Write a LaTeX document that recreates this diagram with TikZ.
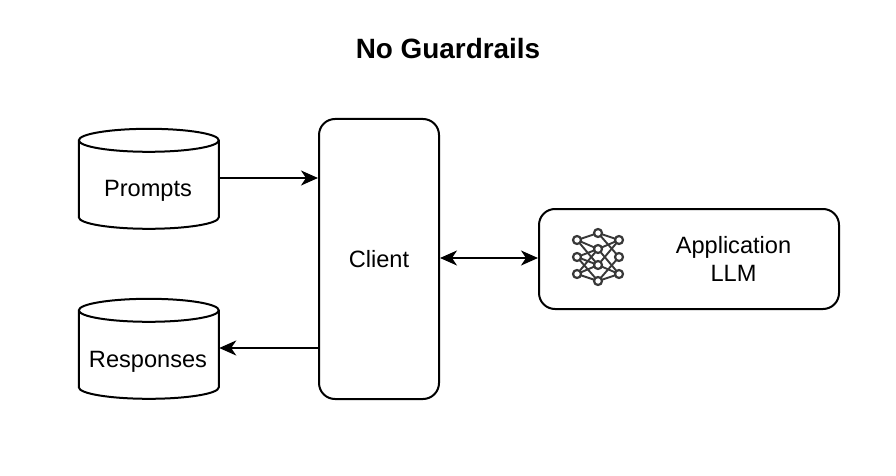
\documentclass[tikz,border=0pt]{standalone}
\usepackage{fontspec}
\setmainfont{Liberation Sans}
\usetikzlibrary{arrows.meta}
\tikzset{
  x=1pt,y=-1pt,
  ln/.style={line width=2pt,draw=black},
  boxnode/.style={ln,rounded corners=16pt,align=center,inner sep=0pt},
  dbnode/.style={minimum width=140pt,minimum height=100pt,inner sep=0pt},
  lbl/.style={font=\fontsize{23.6}{28}\selectfont,align=center},
  conn/.style={ln,-{Stealth[length=17pt,width=15pt,inset=5pt]}},
  bidir/.style={ln,{Stealth[length=17pt,width=15pt,inset=5pt]}-{Stealth[length=17pt,width=15pt,inset=5pt]}},
  nnw/.style={line width=1.9pt,draw=black!78},
  nnd/.style={circle,line width=2.2pt,draw=black!78,fill=white,minimum size=8pt,inner sep=0pt}
}
\newcommand{\dbshape}[1]{%
  \draw[ln] (#1.north west)++(0,11.5) arc[x radius=70pt,y radius=11.5pt,start angle=180,end angle=0] -- ++(0,77)
    arc[x radius=70pt,y radius=11.5pt,start angle=0,end angle=-180] -- cycle;
  \draw[ln] (#1.north west)++(0,11.5) arc[x radius=70pt,y radius=11.5pt,start angle=180,end angle=360];
}
\begin{document}
\begin{tikzpicture}
\useasboundingbox (0,0) rectangle (896,476);
\fill[white] (0,0) rectangle (896,476);
\node[font=\fontsize{27.9}{32}\selectfont\bfseries] (title) at (448,49) {No Guardrails};
\node[dbnode] (prompts) at (149,179) {};
\node[dbnode] (responses) at (149,349) {};
\dbshape{prompts}
\dbshape{responses}
\node[lbl] (ptxt) at (148,191) {Prompts};
\node[lbl] (rtxt) at (148,362) {Responses};
\node[boxnode,minimum width=120pt,minimum height=280pt] (client) at (379,259) {};
\node[lbl] (ctxt) at (379,259) {Client};
\node[boxnode,minimum width=300pt,minimum height=100pt] (app) at (689,259) {};
\node[lbl] (atxt) at (733.5,258.5) {Application\\LLM};
\draw[conn] ([yshift=1pt]prompts.east) -- ([yshift=1pt]client.west |- prompts.east);
\draw[conn] ([yshift=1pt]client.west |- responses.east) -- ([yshift=1pt]responses.east);
\draw[bidir] ([yshift=1pt]client.east) -- ([yshift=1pt]app.west);
% neural network icon
\foreach \n/\px/\py in {l1/577/240,l2/577/257,l3/577/274,m1/598/233,m2/598/249,m3/598/265,m4/598/281,r1/619/240,r2/619/257,r3/619/274}
  \coordinate (\n) at (\px,\py);
\foreach \a/\b in {l1/m1,l1/m2,l1/m3,l2/m2,l2/m3,l2/m4,l3/m3,l3/m4,l3/m2,m1/r1,m1/r2,m2/r1,m2/r3,m3/r1,m3/r3,m4/r2,m4/r3}
  \draw[nnw] (\a) -- (\b);
\foreach \n in {l1,l2,l3,m1,m2,m3,m4,r1,r2,r3}
  \node[nnd] (n\n) at (\n) {};
\end{tikzpicture}
\end{document}
